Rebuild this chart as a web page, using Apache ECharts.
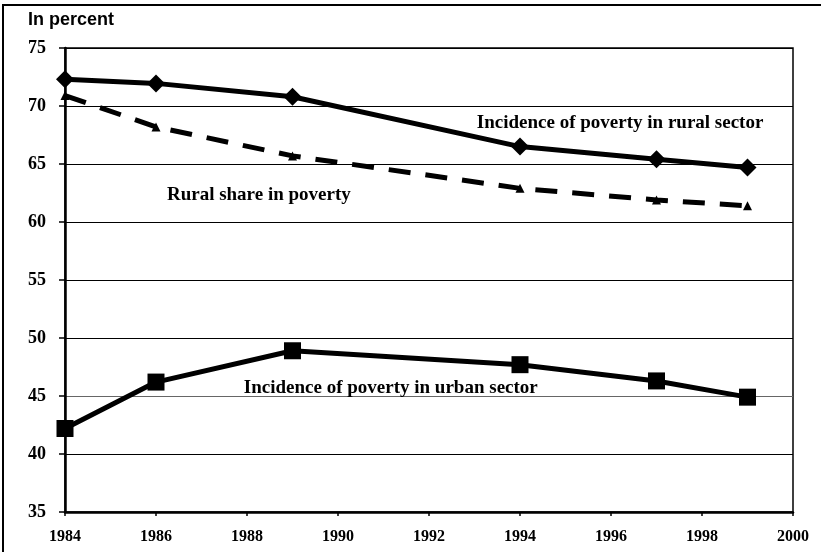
<!DOCTYPE html>
<html>
<head>
<meta charset="utf-8">
<script src="https://cdn.jsdelivr.net/npm/echarts@6/dist/echarts.min.js"></script>
<style>
  html, body { margin: 0; padding: 0; background: #fff; }
  #chart { width: 821px; height: 552px; }
</style>
</head>
<body>
<div id="chart"></div>
<script>
// Survey years
const years = [1984, 1986, 1989, 1994, 1997, 1999];
// Incidence of poverty, rural sector (%)
const ruralIncidence = [72.3, 71.95, 70.8, 66.5, 65.4, 64.7];
// Rural share in total poverty (%)
const ruralShare = [70.9, 68.2, 65.7, 62.9, 61.9, 61.4];
// Incidence of poverty, urban sector (%)
const urbanIncidence = [42.2, 46.2, 48.9, 47.7, 46.3, 44.9];

const serif = '"Liberation Serif", "DejaVu Serif", serif';

const pairs = arr => years.map((y, i) => [y, arr[i]]);

// in-chart caption anchored at a data coordinate (label centre)
const caption = (text, x, y) => ({
  symbol: 'circle', symbolSize: 1,
  itemStyle: { color: 'rgba(0,0,0,0)' },
  data: [{ coord: [x, y], name: text }],
  label: {
    show: true, position: 'inside', color: '#000',
    fontFamily: serif, fontWeight: 'bold', fontSize: 19, formatter: '{b}'
  }
});

const chart = echarts.init(document.getElementById('chart'), null, { renderer: 'canvas' });

chart.setOption({
  animation: false,
  backgroundColor: '#fff',
  grid: { left: 65, right: 28, top: 48, bottom: 40, show: true, borderColor: '#000', borderWidth: 1.5 },
  xAxis: {
    type: 'value', min: 1984, max: 2000, interval: 2,
    axisLine: { show: true, onZero: false, lineStyle: { color: '#000', width: 2.5 } },
    axisTick: { show: true, inside: false, length: 4, lineStyle: { color: '#000', width: 1.5 } },
    axisLabel: { color: '#000', fontFamily: serif, fontWeight: 'bold', fontSize: 16, margin: 17, formatter: v => String(v) },
    splitLine: { show: false }
  },
  yAxis: {
    type: 'value', min: 35, max: 75, interval: 5,
    axisLine: { show: true, onZero: false, lineStyle: { color: '#000', width: 2.5 } },
    axisTick: { show: true, length: 6, lineStyle: { color: '#000', width: 1.5 } },
    axisLabel: { color: '#000', fontFamily: serif, fontWeight: 'bold', fontSize: 18, margin: 19 },
    splitLine: {
      show: true,
      lineStyle: { color: ['#000', '#000', '#666', '#000', '#000', '#000', '#000', '#000', '#000'], width: 1.2 }
    }
  },
  graphic: [
    // frame around the figure (left and top edges)
    { type: 'polyline', shape: { points: [[3, 552], [3, 5], [821, 5]] }, style: { stroke: '#000', lineWidth: 2, fill: null } },
    { type: 'text', left: 28, top: 11, style: { text: 'In percent', font: 'bold 18px "Liberation Sans", Arial, sans-serif', fill: '#000' } },
  ],
  series: [
    {
      name: 'Incidence of poverty in rural sector',
      type: 'line', data: pairs(ruralIncidence),
      symbol: 'diamond', symbolSize: 18, showAllSymbol: true,
      lineStyle: { color: '#000', width: 5 },
      itemStyle: { color: '#000' },
      markPoint: caption('Incidence of poverty in rural sector', 1996.2, 68.5)
    },
    {
      name: 'Rural share in poverty',
      type: 'line', data: pairs(ruralShare),
      symbol: 'triangle', symbolSize: 9, showAllSymbol: true,
      lineStyle: { color: '#000', width: 5, type: [22, 15] },
      itemStyle: { color: '#000' },
      markPoint: caption('Rural share in poverty', 1988.26, 62.3)
    },
    {
      name: 'Incidence of poverty in urban sector',
      type: 'line', data: pairs(urbanIncidence),
      symbol: 'rect', symbolSize: 17, showAllSymbol: true,
      lineStyle: { color: '#000', width: 5 },
      itemStyle: { color: '#000' },
      markPoint: caption('Incidence of poverty in urban sector', 1991.16, 45.7)
    }
  ]
});
</script>
</body>
</html>
